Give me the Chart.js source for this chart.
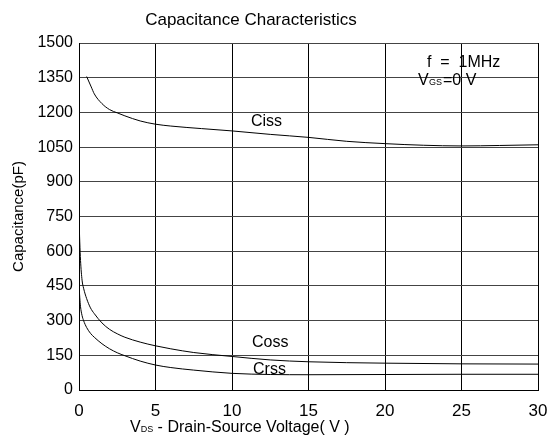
<!DOCTYPE html>
<html>
<head>
<meta charset="utf-8">
<script src="https://cdn.jsdelivr.net/npm/chart.js@4.4.1/dist/chart.umd.min.js"></script>
<style>
  html, body { margin: 0; padding: 0; background: #fff; }
  #wrap { width: 553px; height: 441px; }
</style>
</head>
<body>
<div id="wrap"><canvas id="cap"></canvas></div>
<script>
// data (V, pF)
const cissV = [0.5, 0.8, 1, 1.5, 2, 2.5, 3, 4, 5, 6, 8, 10, 12.5, 15, 17.5, 20, 22.5, 25, 27.5, 30];
const cissC = [1355, 1310, 1280, 1238, 1212, 1198, 1185, 1163, 1149, 1141, 1130, 1120, 1105, 1092, 1075, 1065, 1058, 1055, 1057, 1060];

const cossV = [0, 0.05, 0.1, 0.2, 0.3, 0.5, 0.75, 1, 1.5, 2, 2.5, 3, 4, 5, 6, 7.5, 10, 12.5, 15, 20, 25, 30];
const cossC = [750, 640, 560, 475, 440, 395, 355, 330, 290, 262, 243, 228, 207, 191, 178, 162, 145, 130, 122, 116, 113, 112];

const crssV = [0, 0.05, 0.1, 0.2, 0.3, 0.5, 0.75, 1, 1.5, 2, 2.5, 3, 4, 5, 6, 7.5, 10, 12.5, 15, 20, 25, 30];
const crssC = [460, 400, 360, 322, 300, 270, 245, 228, 200, 178, 161, 148, 125, 108, 97, 86, 72, 67, 66, 67, 68, 68];

const xTicks = [0, 5, 10, 15, 20, 25, 30];
const yTicks = [0, 150, 300, 450, 600, 750, 900, 1050, 1200, 1350, 1500];

const FONT = "'Liberation Sans', Arial, sans-serif";

function toPoints(xs, ys) {
  return xs.map((x, i) => ({ x: x, y: ys[i] }));
}

function curve(label, xs, ys) {
  return {
    label: label,
    data: toPoints(xs, ys),
    borderColor: "#000",
    borderWidth: 1,
    pointRadius: 0,
    fill: false,
    cubicInterpolationMode: "monotone",
  };
}

// text drawn on top: title, curve names, test conditions, x title with subscript
const textPlugin = {
  id: "texts",
  afterDraw(chart) {
    const ctx = chart.ctx;
    ctx.save();
    ctx.fillStyle = "#000";
    ctx.textBaseline = "middle";

    ctx.font = "17px " + FONT;
    ctx.textAlign = "center";
    ctx.fillText("Capacitance Characteristics", 251, 20);

    ctx.font = "16px " + FONT;
    ctx.textAlign = "left";
    ctx.fillText("Ciss", 251, 122);
    ctx.fillText("Coss", 252, 343);
    ctx.fillText("Crss", 253, 370);

    ctx.fillText("f  =  1MHz", 427, 63);
    ctx.fillText("V", 418, 81);
    ctx.font = "9px " + FONT;
    ctx.fillText("GS", 429, 83);
    ctx.font = "16px " + FONT;
    ctx.fillText("=0 V", 443, 81);

    // x axis title
    let px = 130;
    const py = 428;
    ctx.fillText("V", px, py);
    px += ctx.measureText("V").width;
    ctx.font = "9px " + FONT;
    ctx.fillText("DS", px, py + 2);
    px += ctx.measureText("DS").width;
    ctx.font = "16px " + FONT;
    ctx.fillText(" - Drain-Source Voltage( V )", px, py);
    ctx.restore();
  },
};

new Chart(document.getElementById("cap"), {
  type: "line",
  data: {
    datasets: [
      curve("Ciss", cissV, cissC),
      curve("Coss", cossV, cossC),
      curve("Crss", crssV, crssC),
    ],
  },
  options: {
    responsive: true,
    maintainAspectRatio: false,
    animation: false,
    devicePixelRatio: 1,
    layout: { padding: { top: 43, right: 0, left: 0, bottom: 0 } },
    plugins: {
      legend: { display: false },
      tooltip: { enabled: false },
    },
    scales: {
      x: {
        type: "linear",
        min: 0,
        max: 30,
        afterFit: (s) => {
          s.height = 51;
          s.paddingRight = 15;
          s.paddingLeft = 0;
        },
        afterBuildTicks: (s) => { s.ticks = xTicks.map((v) => ({ value: v })); },
        grid: { color: "#000", drawTicks: false, lineWidth: 1 },
        border: { color: "#000" },
        ticks: {
          padding: 11,
          color: "#000",
          font: { family: FONT, size: 17 },
          maxRotation: 0,
          callback: (v) => String(v),
        },
      },
      y: {
        min: 0,
        max: 1500,
        afterFit: (s) => { s.width = 79; },
        afterBuildTicks: (s) => { s.ticks = yTicks.map((v) => ({ value: v })); },
        grid: { color: "#444", drawTicks: false, lineWidth: 1 },
        border: { color: "#000" },
        ticks: {
          padding: 6,
          color: "#000",
          font: { family: FONT, size: 16 },
          callback: (v) => String(v),
        },
        title: {
          display: true,
          text: "Capacitance(pF)",
          color: "#000",
          font: { family: FONT, size: 15 },
          padding: { top: 10, bottom: 0 },
        },
      },
    },
  },
  plugins: [textPlugin],
});
</script>
</body>
</html>
